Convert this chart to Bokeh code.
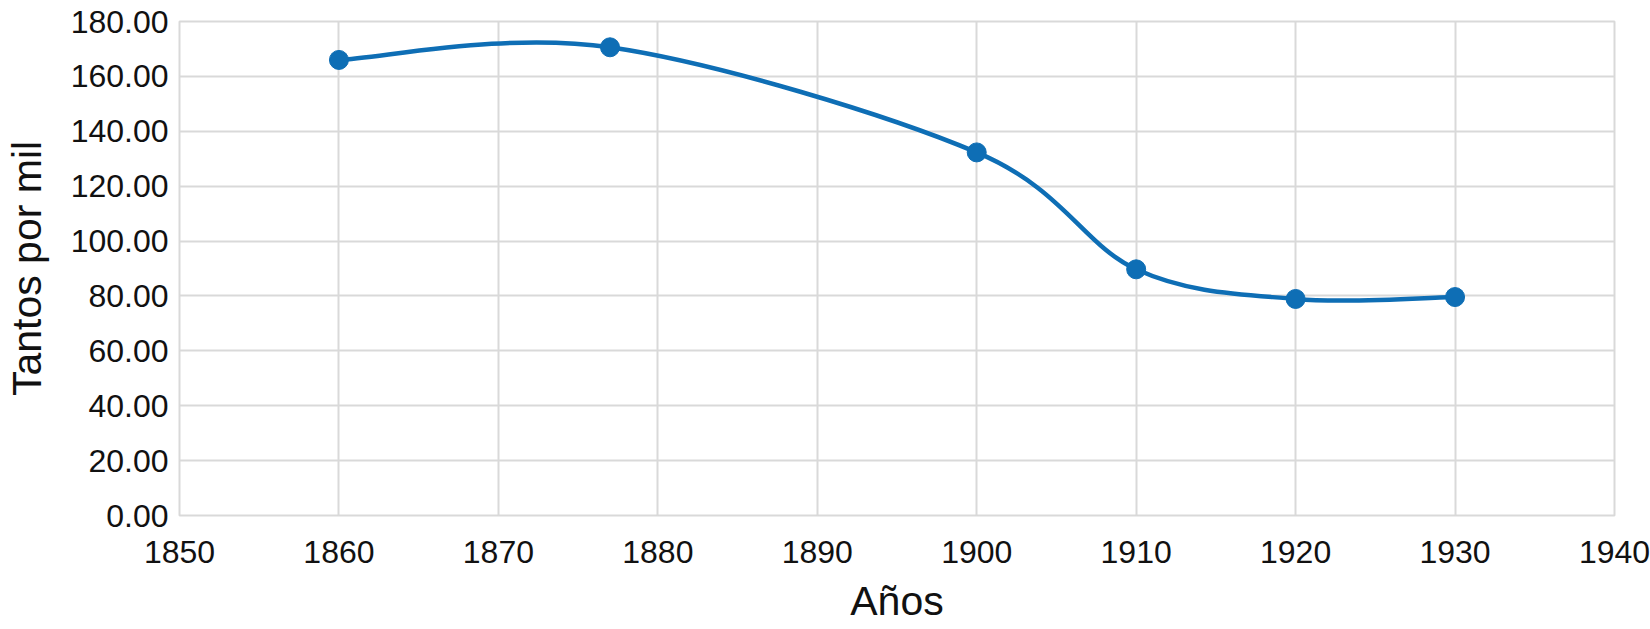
from bokeh.plotting import figure
from bokeh.embed import file_html
from bokeh.resources import INLINE
from bokeh.models import FixedTicker, NumeralTickFormatter, Range1d

# Data
years = [1860, 1877, 1900, 1910, 1920, 1930]
values = [166.0, 170.6, 132.3, 89.7, 78.9, 79.6]
x_ticks = [1850, 1860, 1870, 1880, 1890, 1900, 1910, 1920, 1930, 1940]
y_ticks = [0, 20, 40, 60, 80, 100, 120, 140, 160, 180]
x_title = "Años"
y_title = "Tantos por mil"

LINE_COLOR = "#0e6eb5"
GRID_COLOR = "#d9d9d9"
FONT = "Liberation Sans"

p = figure(width=1650, height=629, output_backend="svg", toolbar_location=None,
           x_range=Range1d(1850, 1940), y_range=Range1d(0, 180),
           min_border_left=179, min_border_right=36, min_border_top=21,
           min_border_bottom=114)

p.outline_line_color = GRID_COLOR
p.outline_line_width = 2

p.xaxis.ticker = FixedTicker(ticks=x_ticks)
p.yaxis.ticker = FixedTicker(ticks=y_ticks)
p.yaxis.formatter = NumeralTickFormatter(format="0.00")

for ax in (p.xaxis, p.yaxis):
    ax.axis_line_color = None
    ax.major_tick_line_color = None
    ax.minor_tick_line_color = None
    ax.major_label_text_font = FONT
    ax.major_label_text_font_size = "32px"
    ax.major_label_text_color = "#111111"
    ax.axis_label_text_font = FONT
    ax.axis_label_text_font_size = "41px"
    ax.axis_label_text_font_style = "normal"
    ax.axis_label_text_color = "#111111"

p.xaxis.major_label_standoff = 19
p.yaxis.major_label_standoff = 5
p.xaxis.axis_label = x_title
p.yaxis.axis_label = y_title
p.xaxis.axis_label_standoff = 12
p.yaxis.axis_label_standoff = 18

p.xgrid.grid_line_color = GRID_COLOR
p.ygrid.grid_line_color = GRID_COLOR
p.xgrid.grid_line_width = 2
p.ygrid.grid_line_width = 2

# Smoothed line (Catmull-Rom style Bezier segments computed from the data)
n = len(years)
x0, y0, x1, y1, cx0, cy0, cx1, cy1 = [], [], [], [], [], [], [], []
for i in range(n - 1):
    pa = (years[i - 1], values[i - 1]) if i > 0 else (years[i], values[i])
    pb = (years[i], values[i])
    pc = (years[i + 1], values[i + 1])
    pd = (years[i + 2], values[i + 2]) if i + 2 < n else pc
    x0.append(pb[0]); y0.append(pb[1])
    x1.append(pc[0]); y1.append(pc[1])
    cx0.append(pb[0] + (pc[0] - pa[0]) / 6.0)
    cy0.append(pb[1] + (pc[1] - pa[1]) / 6.0)
    cx1.append(pc[0] - (pd[0] - pb[0]) / 6.0)
    cy1.append(pc[1] - (pd[1] - pb[1]) / 6.0)

p.bezier(x0=x0, y0=y0, x1=x1, y1=y1, cx0=cx0, cy0=cy0, cx1=cx1, cy1=cy1,
         line_color=LINE_COLOR, line_width=4.5)
p.scatter(years, values, size=19, fill_color=LINE_COLOR, line_color=LINE_COLOR)

open("out.html", "w").write(file_html(p, INLINE))
